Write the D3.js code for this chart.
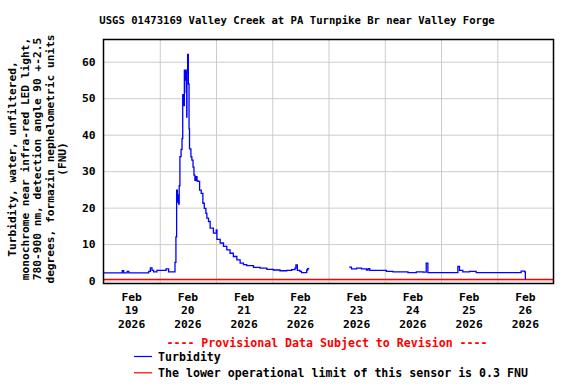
<!DOCTYPE html>
<html>
<head>
<meta charset="utf-8">
<script src="https://cdn.jsdelivr.net/npm/d3@7"></script>
<style>
  body { margin: 0; background: #fff; }
  svg { display: block; }
  text { font-family: "DejaVu Sans Mono", "Liberation Mono", monospace; font-weight: bold; fill: #000; }
</style>
</head>
<body>
<svg id="chart" width="576" height="384"></svg>
<script>
// hours since Feb 19 2026 00:00, turbidity (FNU)
const turbHours = [0.1, 7.2, 8.0, 8.6, 10.1, 10.8, 17.9, 19.3, 20.0, 20.7, 21.4, 22.8, 26.4, 26.7, 27.8, 30.2,
  30.5, 30.9, 31.2, 31.5, 31.8, 32.1, 32.3, 32.6, 33.1, 33.5, 33.8, 34.0, 34.5, 34.8, 35.0, 35.3, 35.5, 35.6,
  35.9, 36.2, 36.5, 36.7, 37.3, 37.7, 38.2, 38.6, 39.0, 39.4, 39.9, 40.4, 41.0, 41.7, 42.4, 43.0, 43.7, 44.1,
  44.8, 45.5, 46.9, 48.1, 48.4, 49.8, 51.2, 52.6, 54.0, 55.4, 56.9, 58.3, 59.7, 61.1, 64.0, 66.8, 69.7, 72.5,
  75.3, 78.2, 80.3, 81.7, 82.1, 82.7, 83.8, 84.5, 86.7, 87.1, 87.8,
  null,
  104.8, 105.8, 108.0, 110.1, 112.2, 112.9, 113.6, 119.3, 120.7, 123.5, 127.8, 129.9, 133.5, 136.3, 137.7,
  138.4, 144.8, 151.2, 151.9, 153.3, 156.2, 159.0, 171.8, 176.0, 178.2, 179.7, 180.0];
const turbValues = [2.1, 2.1, 2.7, 2.1, 2.5, 2.1, 2.1, 2.5, 3.5, 2.8, 2.4, 2.8, 2.8, 3.2, 2.4, 2.4,
  5.0, 12, 24.8, 21.5, 23.5, 21, 26, 34, 36, 38.9, 51, 48, 57.7, 55, 57.7, 51.6, 44.8, 57,
  62, 53.9, 41.6, 36.1, 33.9, 33, 31.1, 28.9, 27.5, 28.5, 27.3, 27.2, 24.8, 23.9, 21.2, 19.8, 18.4, 17.1,
  16.2, 14.4, 13, 13.9, 11.3, 10.3, 9.4, 8.4, 7.5, 6.6, 5.7, 4.8, 4.4, 4.1, 3.6, 3.4, 3.1, 2.9,
  2.7, 2.8, 3.0, 3.4, 4.3, 2.8, 2.5, 2.2, 2.9, 3.3, 3.3,
  null,
  3.7, 3.2, 3.4, 3.2, 2.9, 3.3, 2.8, 2.8, 2.5, 2.4, 2.4, 2.2, 2.4, 2.3, 4.8,
  2.2, 2.2, 3.9, 2.8, 2.4, 2.5, 2.2, 2.2, 2.2, 2.6, 2.4, 0.3];
const limitValue = 0.3;
const yTicks = [0, 10, 20, 30, 40, 50, 60];
const gridDays = [20, 21, 22, 23, 24, 25, 26];
const labelDays = [19, 20, 21, 22, 23, 24, 25, 26];
const titleText = "USGS 01473169 Valley Creek at PA Turnpike Br near Valley Forge";
const yLabelLines = ["Turbidity, water, unfiltered,", "monochrome near infra-red LED light,",
  "780-900 nm, detection angle 90 +-2.5", "degrees, formazin nephelometric units", "(FNU)"];
const legendItems = [{ label: "Turbidity", color: "#0000ff" },
  { label: "The lower operational limit of this sensor is 0.3 FNU", color: "#ff0000" }];

const svg = d3.select("#chart");
const margin = { top: 39.5, right: 22.5, bottom: 100.5, left: 103.5 };
const width = 576 - margin.left - margin.right;
const height = 384 - margin.top - margin.bottom;
const t0 = new Date(2026, 1, 19);
const hourDate = h => new Date(t0.getTime() + h * 3600000);

const x = d3.scaleTime().domain([t0, new Date(2026, 1, 27)]).range([0, width]);
const y = d3.scaleLinear().domain([-0.8, 66.1]).range([height, 0]);

const g = svg.append("g").attr("transform", `translate(${margin.left},${margin.top})`);

// grid
g.append("g")
  .attr("transform", `translate(0,${height})`)
  .call(d3.axisBottom(x).tickValues(gridDays.map(d => new Date(2026, 1, d))).tickSize(-height).tickFormat(""))
  .call(a => a.select(".domain").remove())
  .call(a => a.selectAll("line").attr("stroke", "#cccccc"));
g.append("g")
  .call(d3.axisLeft(y).tickValues(yTicks).tickSize(-width).tickFormat(""))
  .call(a => a.select(".domain").remove())
  .call(a => a.selectAll("line").attr("stroke", "#cccccc"));

// y tick labels
g.append("g")
  .call(d3.axisLeft(y).tickValues(yTicks).tickSize(0).tickPadding(8))
  .call(a => a.select(".domain").remove())
  .call(a => a.selectAll("text").style("font-size", "11.3px"));

// x tick labels (3 lines), centred on noon of each day
const xt = g.append("g").attr("transform", `translate(0,${height})`);
labelDays.forEach(d => {
  const cx = x(new Date(2026, 1, d, 12));
  const t = xt.append("text")
    .attr("x", cx)
    .attr("y", 17.5)
    .attr("text-anchor", "middle")
    .style("font-size", "11.3px");
  ["Feb", String(d), "2026"].forEach((s, i) => {
    t.append("tspan").attr("x", cx).attr("dy", i === 0 ? 0 : 13.3).text(s);
  });
});

// limit line
g.append("line")
  .attr("x1", 0).attr("x2", width)
  .attr("y1", y(limitValue)).attr("y2", y(limitValue))
  .attr("stroke", "#ff0000").attr("stroke-width", 1.6);

// turbidity series
const pts = turbHours.map((h, i) => ({ h, v: turbValues[i] }));
const line = d3.line()
  .defined(d => d.h !== null)
  .x(d => x(hourDate(d.h)))
  .y(d => y(d.v))
  .curve(d3.curveStepAfter);
g.append("path")
  .datum(pts)
  .attr("d", line)
  .attr("fill", "none")
  .attr("stroke", "#0000ff")
  .attr("stroke-width", 1.3);

// frame
g.append("rect")
  .attr("width", width).attr("height", height)
  .attr("fill", "none").attr("stroke", "#000").attr("stroke-width", 1.5);

// title
svg.append("text")
  .attr("x", 297).attr("y", 24)
  .attr("text-anchor", "middle")
  .style("font-size", "10.6px")
  .text(titleText);

// y axis label
const yl = svg.append("text")
  .attr("transform", `translate(16,159) rotate(-90)`)
  .attr("text-anchor", "middle")
  .style("font-size", "11.2px");
yLabelLines.forEach((s, i) => {
  yl.append("tspan").attr("x", 0).attr("dy", i === 0 ? 0 : 12.5).text(s);
});

// provisional notice
svg.append("text")
  .attr("x", 327).attr("y", 346.5)
  .attr("text-anchor", "middle")
  .style("font-size", "11.6px")
  .style("fill", "#ff0000")
  .text("---- Provisional Data Subject to Revision ----");

// legend
legendItems.forEach((item, i) => {
  const ly = 356.5 + i * 16.3;
  svg.append("line")
    .attr("x1", 134).attr("x2", 152)
    .attr("y1", ly).attr("y2", ly)
    .attr("stroke", item.color).attr("stroke-width", 1.2);
  svg.append("text")
    .attr("x", 158).attr("y", ly + 4)
    .style("font-size", "11.6px")
    .text(item.label);
});
</script>
</body>
</html>
